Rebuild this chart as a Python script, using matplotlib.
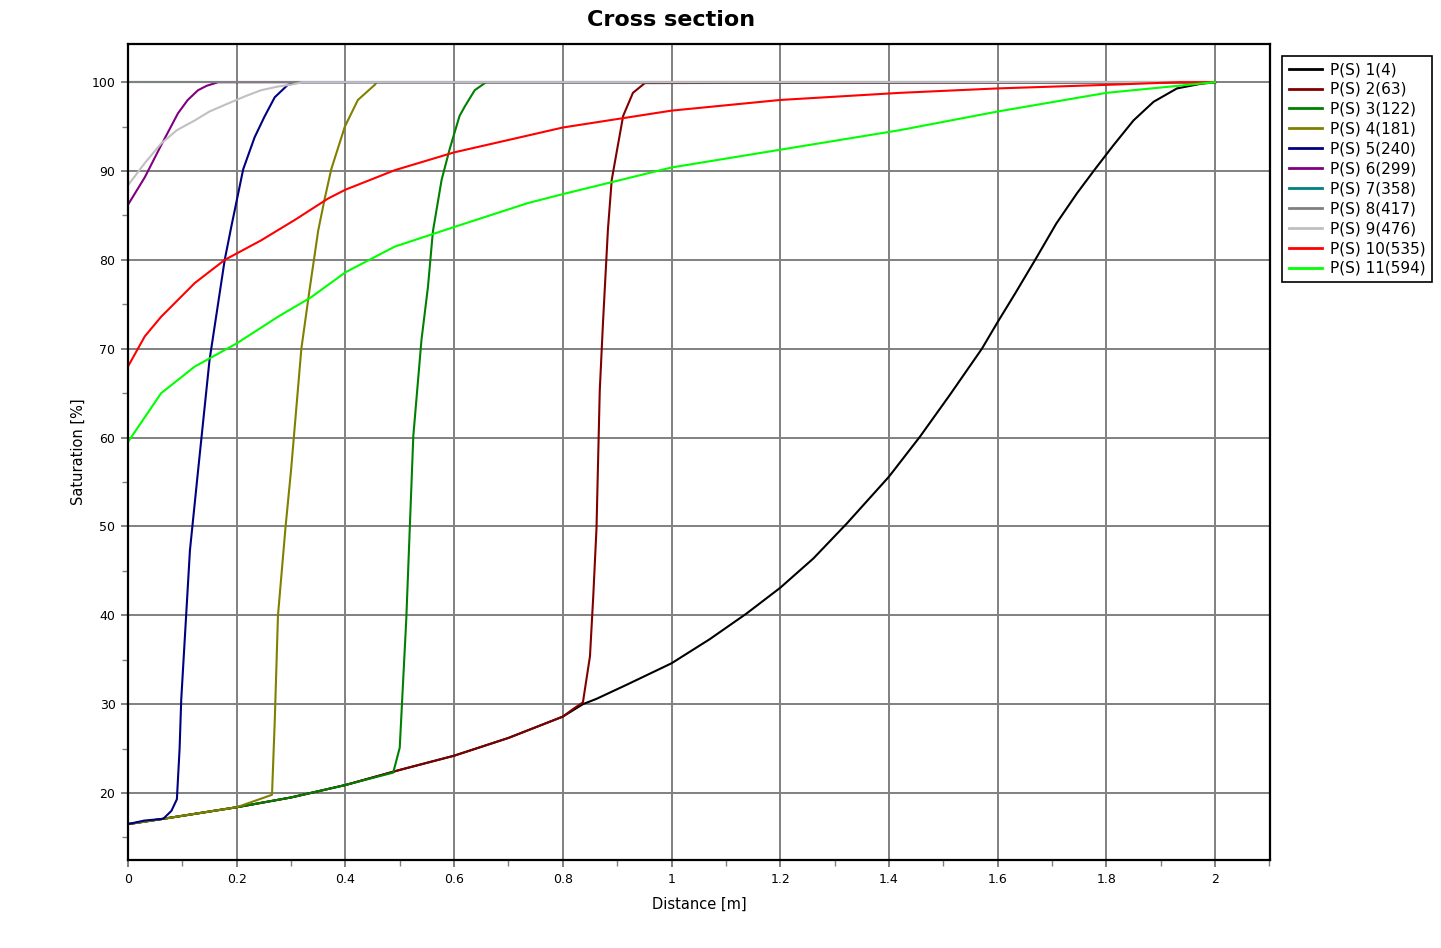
import matplotlib.pyplot as plt
from matplotlib.ticker import MultipleLocator

# Series labels and colours
labels = ["P(S) 1(4)", "P(S) 2(63)", "P(S) 3(122)", "P(S) 4(181)", "P(S) 5(240)",
          "P(S) 6(299)", "P(S) 7(358)", "P(S) 8(417)", "P(S) 9(476)",
          "P(S) 10(535)", "P(S) 11(594)"]
colors = ["#000000", "#800000", "#008000", "#808000", "#000080",
          "#800080", "#008080", "#808080", "#C0C0C0", "#FF0000", "#00FF00"]

# P(S) 1
x1 = [0, 0.065, 0.2, 0.3, 0.4, 0.5, 0.6, 0.7, 0.8, 0.837, 0.862, 0.918, 1.0,
      1.07, 1.138, 1.2, 1.261, 1.322, 1.4, 1.457, 1.512, 1.571, 1.6, 1.632,
      1.669, 1.708, 1.746, 1.779, 1.813, 1.85, 1.887, 1.93, 1.972, 2.0]
y1 = [16.5, 17.1, 18.4, 19.5, 20.9, 22.6, 24.2, 26.2, 28.6, 30.0, 30.6, 32.2,
      34.6, 37.3, 40.2, 43.1, 46.4, 50.3, 55.6, 60.1, 64.8, 70.0, 73.0, 76.2,
      80.0, 84.1, 87.5, 90.2, 92.9, 95.7, 97.8, 99.3, 99.8, 100]

# P(S) 2
x2 = [0, 0.065, 0.2, 0.3, 0.4, 0.5, 0.6, 0.7, 0.8, 0.82, 0.837, 0.85, 0.856,
      0.862, 0.868, 0.874, 0.883, 0.89, 0.899, 0.911, 0.929, 0.951, 2.0]
y2 = [16.5, 17.1, 18.4, 19.5, 20.9, 22.6, 24.2, 26.2, 28.6, 29.5, 30.2, 35.4,
      42.1, 49.8, 65.3, 73.0, 83.4, 89.0, 92.1, 96.2, 98.8, 99.9, 100]

# P(S) 3
x3 = [0, 0.065, 0.2, 0.3, 0.4, 0.488, 0.5, 0.512, 0.525, 0.54, 0.552, 0.561,
      0.577, 0.592, 0.61, 0.62, 0.638, 0.659, 2.0]
y3 = [16.5, 17.1, 18.4, 19.5, 20.9, 22.3, 25.1, 39.5, 60.2, 71.0, 77.0, 83.2,
      89.0, 92.5, 96.2, 97.3, 99.1, 100, 100]

# P(S) 4
x4 = [0, 0.065, 0.2, 0.265, 0.27, 0.276, 0.29, 0.3, 0.319, 0.334, 0.35,
      0.362, 0.374, 0.399, 0.423, 0.454, 0.458, 2.0]
y4 = [16.5, 17.1, 18.4, 19.8, 28.0, 40.0, 50.0, 56.3, 70.0, 76.6, 83.3,
      86.9, 90.2, 95.0, 98.0, 99.7, 100, 100]

# P(S) 5
x5 = [0, 0.03, 0.065, 0.08, 0.09, 0.095, 0.098, 0.114, 0.129, 0.15, 0.178,
      0.19, 0.212, 0.233, 0.251, 0.27, 0.294, 0.313, 2.0]
y5 = [16.5, 16.9, 17.1, 18.0, 19.3, 25.0, 30.5, 47.3, 56.3, 68.7, 80.0,
      83.7, 90.2, 93.8, 96.1, 98.3, 99.7, 100, 100]

# P(S) 6
x6 = [0, 0.031, 0.061, 0.092, 0.11, 0.129, 0.145, 0.166, 2.0]
y6 = [86.2, 89.3, 92.9, 96.5, 98.0, 99.1, 99.6, 100, 100]

# P(S) 7, P(S) 8
x7 = [0, 2.0]
y7 = [100, 100]
x8 = [0, 2.0]
y8 = [100, 100]

# P(S) 9
x9 = [0, 0.031, 0.061, 0.09, 0.123, 0.15, 0.184, 0.215, 0.245, 0.275, 0.307,
      0.32, 2.0]
y9 = [88.4, 90.9, 93.1, 94.6, 95.7, 96.7, 97.6, 98.4, 99.1, 99.5, 99.8,
      100, 100]

# P(S) 10
x10 = [0, 0.031, 0.061, 0.092, 0.123, 0.178, 0.245, 0.307, 0.368, 0.4, 0.491,
       0.6, 0.736, 0.8, 1.0, 1.2, 1.42, 1.6, 1.8, 1.935, 2.0]
y10 = [68.0, 71.4, 73.6, 75.5, 77.4, 80.0, 82.2, 84.5, 86.9, 87.9, 90.1,
       92.1, 94.0, 94.9, 96.8, 98.0, 98.8, 99.3, 99.7, 100, 100]

# P(S) 11
x11 = [0, 0.031, 0.061, 0.123, 0.2, 0.276, 0.337, 0.4, 0.491, 0.6, 0.736,
       0.8, 1.0, 1.2, 1.42, 1.6, 1.8, 2.0]
y11 = [59.5, 62.3, 65.0, 68.0, 70.6, 73.6, 75.8, 78.6, 81.5, 83.7, 86.4,
       87.4, 90.4, 92.4, 94.6, 96.7, 98.8, 100]

xs = [x1, x2, x3, x4, x5, x6, x7, x8, x9, x10, x11]
ys = [y1, y2, y3, y4, y5, y6, y7, y8, y9, y10, y11]


def build_chart():
    fig = plt.figure(figsize=(14.41, 9.48), dpi=100)
    ax = fig.add_axes([0.0888, 0.0928, 0.7925, 0.8608])

    for x, y, lab, col in zip(xs, ys, labels, colors):
        ax.plot(x, y, color=col, linewidth=1.5, label=lab)

    ax.set_xlim(0, 2.101)
    ax.set_ylim(12.46, 104.3)
    ax.xaxis.set_major_locator(MultipleLocator(0.2))
    ax.xaxis.set_minor_locator(MultipleLocator(0.1))
    ax.yaxis.set_major_locator(MultipleLocator(10))
    ax.yaxis.set_minor_locator(MultipleLocator(5))
    ax.xaxis.set_major_formatter(lambda v, p: "%g" % round(v, 1))

    ax.grid(which="major", color="#808080", linewidth=1.4)
    ax.set_axisbelow(True)
    ax.tick_params(which="major", length=5, width=1.4, color="#808080",
                   labelsize=9, pad=4)
    ax.tick_params(which="minor", length=4, width=1, color="#808080")
    for s in ax.spines.values():
        s.set_color("black")
        s.set_linewidth(1.6)

    ax.set_xlabel("Distance [m]", fontsize=10.5, labelpad=8)
    ax.set_ylabel("Saturation [%]", fontsize=10.5, labelpad=4)
    fig.text(0.466, 0.979, "Cross section", fontsize=16, fontweight="bold",
             ha="center", va="center")

    leg = ax.legend(loc="upper left", bbox_to_anchor=(0.890, 0.941),
                    bbox_transform=fig.transFigure, fontsize=11,
                    fancybox=False, framealpha=1, edgecolor="black",
                    handlelength=2.2, handletextpad=0.5, labelspacing=0.32,
                    borderpad=0.4, borderaxespad=0)
    leg.get_frame().set_linewidth(1.2)
    for line in leg.get_lines():
        line.set_linewidth(2)

    fig.savefig("out.png", dpi=100)


def main():
    build_chart()


if __name__ == "__main__":
    main()
